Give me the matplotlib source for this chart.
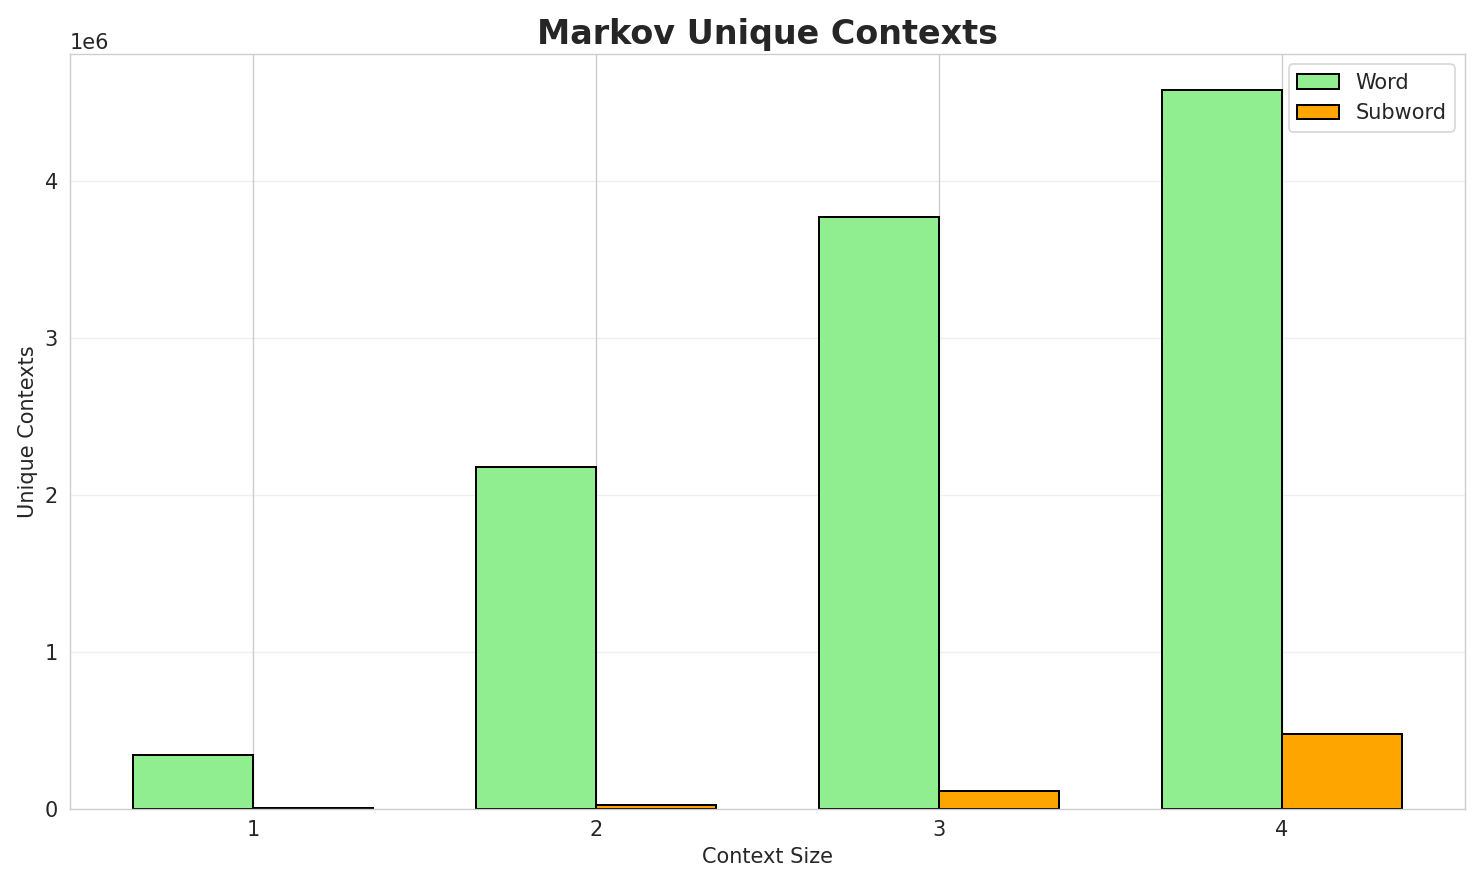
import matplotlib
matplotlib.use("Agg")
import matplotlib.pyplot as plt
import seaborn as sns
import numpy as np

sns.set_style("whitegrid")

context_sizes = [1, 2, 3, 4]
word_contexts = [339000, 2180000, 3770000, 4580000]
subword_contexts = [3000, 25000, 115000, 477000]

fs = 12.5
fig, ax = plt.subplots(figsize=(1483 / 120, 885 / 120), dpi=120)
x = np.arange(len(context_sizes))
width = 0.35
ax.bar(x - width / 2, word_contexts, width, label="Word", color="lightgreen", edgecolor="black", linewidth=1.2)
ax.bar(x + width / 2, subword_contexts, width, label="Subword", color="orange", edgecolor="black", linewidth=1.2)
ax.set_xticks(x)
ax.set_xticklabels([str(c) for c in context_sizes], fontsize=fs)
ax.tick_params(axis="y", labelsize=fs)
ax.set_xlabel("Context Size", fontsize=fs)
ax.set_ylabel("Unique Contexts", fontsize=fs)
ax.set_title("Markov Unique Contexts", fontsize=20, fontweight="bold")
ax.legend(fontsize=fs)
ax.grid(axis="y", alpha=0.3)
ax.yaxis.get_offset_text().set_fontsize(fs)
plt.tight_layout()
plt.savefig("out.png", dpi=120)
